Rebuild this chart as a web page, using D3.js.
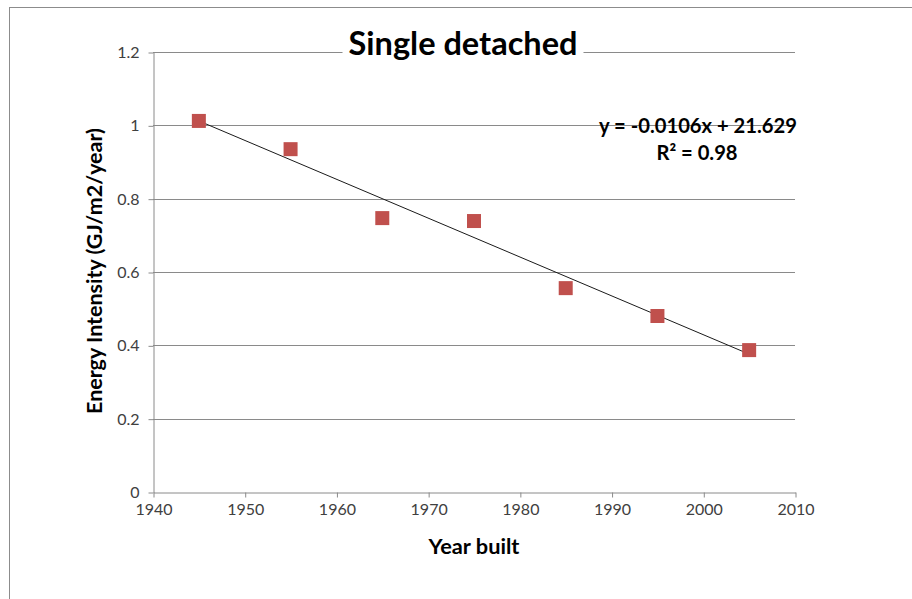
<!DOCTYPE html>
<html><head><meta charset="utf-8">
<script src="https://cdn.jsdelivr.net/npm/d3@7"></script>
<style>body{margin:0;background:#fff;} svg{display:block;}</style>
</head><body>
<svg id="c" width="912" height="599"></svg>
<script>
const years = [1945, 1955, 1965, 1975, 1985, 1995, 2005];
const intensity = [1.012, 0.935, 0.747, 0.739, 0.556, 0.480, 0.387];
const xTicks = [1940, 1950, 1960, 1970, 1980, 1990, 2000, 2010];
const yTicks = [0, 0.2, 0.4, 0.6, 0.8, 1, 1.2];
const trend = {slope: -0.0106, intercept: 21.629, r2: 0.98};

const svg = d3.select("#c");
const font = "Lato, 'Open Sans', sans-serif";
svg.append("rect").attr("x", 9.5).attr("y", 7.5).attr("width", 920).attr("height", 620)
  .attr("fill", "#fff").attr("stroke", "#8c8c8c");

const x = d3.scaleLinear().domain([1940, 2010]).range([153, 795]);
const y = d3.scaleLinear().domain([0, 1.2]).range([492, 52]);

// fit text to a measured target width
function fit(sel, w) {
  const n = sel.node();
  const cur = +sel.attr("font-size");
  const len = n.getComputedTextLength();
  if (len > 0) sel.attr("font-size", (cur * w / len).toFixed(2));
  return sel;
}

// gridlines
svg.append("g").selectAll("line").data(yTicks.filter(d => d > 0)).join("line")
  .attr("x1", x(1940)).attr("x2", x(2010)).attr("y1", d => Math.round(y(d)) + 0.5).attr("y2", d => Math.round(y(d)) + 0.5)
  .attr("stroke", "#8a8a8a").attr("stroke-width", 1);

const yAxis = svg.append("g").attr("transform", `translate(${x(1940)+0.5},0.5)`)
  .call(d3.axisLeft(y).tickValues(yTicks).tickSize(5).tickSizeOuter(0).tickPadding(9).tickFormat(d3.format("")));
const xAxis = svg.append("g").attr("transform", `translate(0.5,${y(0)+0.5})`)
  .call(d3.axisBottom(x).tickValues(xTicks).tickSize(5).tickSizeOuter(0).tickPadding(6).tickFormat(d3.format("d")));
[xAxis, yAxis].forEach(a => {
  a.attr("font-size", null).attr("font-family", null);
  a.select(".domain").attr("stroke", "#8a8a8a");
  a.selectAll(".tick line").attr("stroke", "#8a8a8a");
  a.selectAll("text").attr("font-family", font).attr("font-size", 16).attr("fill", "#404040");
});

// trendline
svg.append("line")
  .attr("x1", x(years[0])).attr("y1", y(trend.slope * years[0] + trend.intercept))
  .attr("x2", x(years[years.length-1])).attr("y2", y(trend.slope * years[years.length-1] + trend.intercept))
  .attr("stroke", "#1a1a1a").attr("stroke-width", 1);

// markers
const s = 14;
svg.append("g").selectAll("rect").data(years).join("rect")
  .attr("x", (d) => x(d) - s/2).attr("y", (d, i) => y(intensity[i]) - s/2)
  .attr("width", s).attr("height", s).attr("fill", "#C0504D");

// title
const tg = svg.append("g");
const title = tg.append("text").attr("x", 463).attr("y", 55).attr("text-anchor", "middle")
  .attr("font-family", font).attr("font-weight", "bold").attr("font-size", 26).attr("fill", "#000")
  .text("Single detached");
fit(title, 229);
const bb = title.node().getBBox();
tg.insert("rect", "text").attr("x", bb.x - 6).attr("y", bb.y).attr("width", bb.width + 12).attr("height", bb.height).attr("fill", "#fff");

// equation
const eq = svg.append("text").attr("x", 698).attr("y", 133).attr("text-anchor", "middle")
  .attr("font-family", font).attr("font-weight", "bold").attr("font-size", 16).attr("fill", "#000")
  .text("y = " + trend.slope + "x + " + trend.intercept);
fit(eq, 198);
svg.append("text").attr("x", 697).attr("y", 160).attr("text-anchor", "middle")
  .attr("font-family", font).attr("font-weight", "bold").attr("font-size", eq.attr("font-size")).attr("fill", "#000")
  .text("R² = " + trend.r2);

// axis titles
const xt = svg.append("text").attr("x", 474).attr("y", 554).attr("text-anchor", "middle")
  .attr("font-family", font).attr("font-weight", "bold").attr("font-size", 16).text("Year built");
fit(xt, 91);
const yt = svg.append("text").attr("transform", "translate(102,271) rotate(-90)").attr("text-anchor", "middle")
  .attr("font-family", font).attr("font-weight", "bold").attr("font-size", 16).text("Energy Intensity (GJ/m2/year)");
fit(yt, 286);
</script>
</body></html>
